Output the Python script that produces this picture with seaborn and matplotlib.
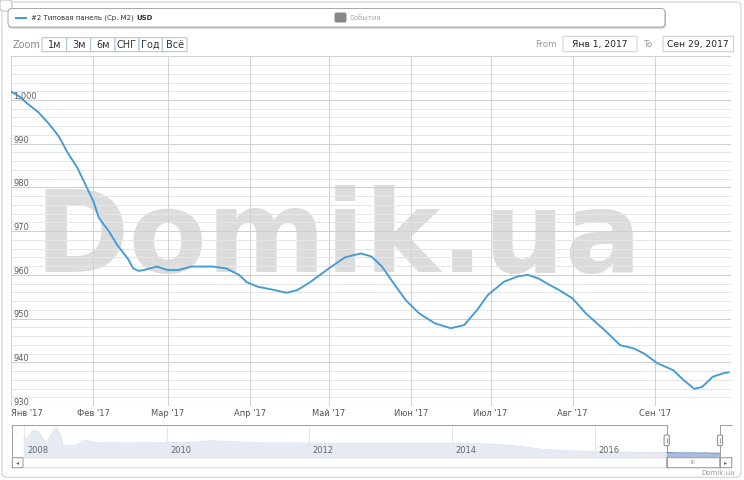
import matplotlib
matplotlib.use("Agg")
import matplotlib.pyplot as plt
from matplotlib.patches import FancyBboxPatch
from matplotlib.lines import Line2D
from matplotlib.transforms import IdentityTransform
import seaborn as sns
import pandas as pd

# ---------------- data ----------------
dates = ["2017-01-01", "2017-01-04", "2017-01-07", "2017-01-11", "2017-01-15", "2017-01-19",
         "2017-01-22", "2017-01-26", "2017-01-29", "2017-02-01", "2017-02-03", "2017-02-07",
         "2017-02-10", "2017-02-14", "2017-02-16", "2017-02-18", "2017-02-20", "2017-02-25",
         "2017-03-01", "2017-03-05", "2017-03-10", "2017-03-18", "2017-03-23", "2017-03-28",
         "2017-03-31", "2017-04-04", "2017-04-09", "2017-04-15", "2017-04-19", "2017-04-24",
         "2017-05-01", "2017-05-07", "2017-05-13", "2017-05-17", "2017-05-21", "2017-05-25",
         "2017-05-30", "2017-06-04", "2017-06-10", "2017-06-16", "2017-06-21", "2017-06-26",
         "2017-06-30", "2017-07-03", "2017-07-06", "2017-07-11", "2017-07-15", "2017-07-19",
         "2017-07-23", "2017-07-27", "2017-08-01", "2017-08-06", "2017-08-13", "2017-08-19",
         "2017-08-24", "2017-08-28", "2017-09-02", "2017-09-08", "2017-09-12", "2017-09-16",
         "2017-09-19", "2017-09-23", "2017-09-27", "2017-09-29"]
prices = [1001.9, 1000.8, 999.2, 997.3, 994.7, 991.6,
          988.2, 984.4, 980.6, 976.8, 973.1, 969.8,
          966.8, 963.7, 961.5, 960.9, 961.1, 961.9,
          961.1, 961.1, 961.9, 961.9, 961.5, 960.0,
          958.3, 957.3, 956.7, 955.9, 956.5, 958.4,
          961.5, 964.0, 964.9, 964.2, 961.9, 958.4,
          954.2, 951.2, 948.9, 947.8, 948.5, 952.0,
          955.4, 956.9, 958.4, 959.6, 960.0, 959.2,
          957.8, 956.5, 954.6, 951.2, 947.4, 943.9,
          943.2, 942.0, 939.8, 938.2, 935.9, 933.9,
          934.4, 936.7, 937.5, 937.7]

month_ticks = ["2017-01-01", "2017-02-01", "2017-03-01", "2017-04-01", "2017-05-01",
               "2017-06-01", "2017-07-01", "2017-08-01", "2017-09-01"]
month_labels = ["Янв '17", "Фев '17", "Мар '17", "Апр '17", "Май '17",
                "Июн '17", "Июл '17", "Авг '17", "Сен '17"]
y_ticks = [930, 940, 950, 960, 970, 980, 990, 1000]
y_tick_labels = ["930", "940", "950", "960", "970", "980", "990", "1,000"]

# navigator (full history, decimal years)
nav_years = [2007.99, 2008.05, 2008.13, 2008.20, 2008.27, 2008.31, 2008.36, 2008.41, 2008.45,
             2008.50, 2008.55, 2008.62, 2008.72, 2008.80, 2008.86, 2008.95, 2009.10, 2009.50,
             2010.00, 2010.40, 2010.65, 2010.90, 2011.40, 2012.00, 2012.60, 2013.20, 2013.80,
             2014.30, 2014.60, 2014.90, 2015.20, 2015.50, 2015.90, 2016.40, 2016.90, 2017.00]
nav_values = [1928, 2000, 2550, 2450, 1900, 1740, 2000, 2500, 2740,
              2300, 1510, 1450, 1460, 1700, 1860, 1720, 1670, 1660,
              1680, 1720, 1810, 1740, 1660, 1650, 1620, 1610, 1620,
              1600, 1560, 1450, 1250, 1120, 1080, 1020, 990, 1000]
nav_year_ticks = [2008, 2010, 2012, 2014, 2016]

series_name = "#2 Типовая панель (Ср. М2) "
series_unit = "USD"
events_label = "События"
zoom_buttons = ["1м", "3м", "6м", "СНГ", "Год", "Всё"]
from_label, to_label = "Янв 1, 2017", "Сен 29, 2017"

# ---------------- setup ----------------
sns.set_theme(style="white")
plt.rcParams["font.family"] = ["DejaVu Sans"]

W, H = 744, 480
fig = plt.figure(figsize=(W / 100, H / 100), dpi=100)
fig.patch.set_facecolor("white")
PX = 0.72  # 1 px in points


def fx(x):
    return x / W


def fy(y):
    return 1 - y / H


def box(x0, y0, x1, y1, r=0, fc="white", ec="#cccccc", lw=1.0, z=1):
    p = FancyBboxPatch((x0, H - y1), x1 - x0, y1 - y0,
                       boxstyle=f"round,pad=0,rounding_size={r}",
                       transform=IdentityTransform(), fc=fc, ec=ec, lw=lw * PX, zorder=z)
    fig.add_artist(p)
    return p


def line(xs, ys, color="#999999", lw=1.0, z=5):
    fig.add_artist(Line2D([fx(x) for x in xs], [fy(y) for y in ys], transform=fig.transFigure,
                          color=color, lw=lw * PX, zorder=z, solid_capstyle="butt"))


# outer border + corner box
box(2, 2, 741, 477.3, r=5, fc="white", ec="#cccccc", z=0)
box(0, 0, 12, 11, r=3, fc="white", ec="#bbbbbb", z=1)

# legend
box(8.5, 10, 665.5, 28, r=4, fc="#dddddd", ec="#bbbbbb", z=1)
box(8, 8.5, 665, 27, r=4, fc="white", ec="#aaaaaa", z=2)
line([15, 27], [18, 18], color="#449bd4", lw=2, z=3)
t = fig.text(fx(31), fy(18), series_name, fontsize=5, color="#333333", va="center", ha="left", zorder=3)
fig.canvas.draw()
bb = t.get_window_extent()
fig.text(bb.x1 / W, fy(18), series_unit, fontsize=5, color="#333333", va="center", ha="left",
         fontweight="bold", zorder=3)
box(335, 13, 346, 22, r=1.5, fc="#888888", ec="#888888", z=3)
fig.text(fx(350), fy(18), events_label, fontsize=5, color="#aaaaaa", va="center", ha="left", zorder=3)

# zoom buttons
fig.text(fx(12.3), fy(44.7), "Zoom", fontsize=7, color="#888888", va="center", ha="left")
edges = [42, 66.7, 90.7, 115, 139, 162.3, 187]
for i, lab in enumerate(zoom_buttons):
    box(edges[i], 37.7, edges[i + 1], 51.7, r=0, fc="white", ec="#a9c0de", z=2)
    fig.text(fx((edges[i] + edges[i + 1]) / 2), fy(44.7), lab, fontsize=7, color="#333333",
             va="center", ha="center", zorder=3)

# from / to
fig.text(fx(556.7), fy(44.5), "From", fontsize=6.3, color="#999999", va="center", ha="right")
box(563, 36.3, 637, 51.7, fc="white", ec="#cccccc", z=2)
fig.text(fx(600), fy(44.5), from_label, fontsize=6.6, color="#222222", va="center", ha="center", zorder=3)
fig.text(fx(648), fy(44.5), "To", fontsize=6.3, color="#999999", va="center", ha="center")
box(663, 36.3, 733.5, 51.7, fc="white", ec="#cccccc", z=2)
fig.text(fx(698.3), fy(44.5), to_label, fontsize=6.6, color="#222222", va="center", ha="center", zorder=3)

# ---------------- main plot ----------------
ax = fig.add_axes([fx(11.4), fy(406), 720 / W, (406 - 56.3) / H])
ax.set_facecolor("none")
df = pd.DataFrame({"date": pd.to_datetime(dates), "price": prices})
sns.lineplot(data=df, x="date", y="price", ax=ax, color="#449bd4", linewidth=1.35, zorder=4)
for ln in ax.get_lines():
    ln.set_solid_joinstyle("round")
    ln.set_solid_capstyle("round")
x0, x1 = pd.Timestamp("2017-01-01"), pd.Timestamp("2017-09-30")
ax.set_xlim(x0, x1)
ax.set_ylim(930, 1010)
for v in range(930, 1011, 2):
    if v % 10:
        ax.axhline(v, color="#e6e6e6", lw=PX, zorder=1)
for v in range(930, 1011, 10):
    ax.axhline(v, color="#cfcfcf", lw=PX, zorder=1.2)
for m in month_ticks:
    ax.axvline(pd.Timestamp(m), color="#d3d3d3", lw=PX, zorder=1.1)
ax.axvline(x1, color="#d3d3d3", lw=PX, zorder=1.1)
ax.axhline(930, color="#c0c0c0", lw=1.2 * PX, zorder=1.3)
for s in ax.spines.values():
    s.set_visible(False)
ax.set_yticks([])
ax.set_xlabel("")
ax.set_ylabel("")
ax.set_xticks(pd.to_datetime(month_ticks))
ax.set_xticklabels(month_labels, fontsize=6, color="#555555")
ax.tick_params(axis="x", length=0, pad=2.3)
ax.get_xticklabels()[0].set_ha("left")
for v, lab in zip(y_ticks, y_tick_labels):
    ax.text(0.0025, v + 0.25, lab, transform=ax.get_yaxis_transform(), fontsize=6, color="#606060",
            va="baseline", ha="left", zorder=5)

# watermark
ax.text(fx(338), fy(272), "Domik.ua", transform=fig.transFigure, fontsize=82, fontweight="bold",
        color="#dcdcdc", ha="center", va="baseline", zorder=0.5)

# ---------------- navigator ----------------
nav = fig.add_axes([fx(11.4), fy(456.7), 720 / W, 31.7 / H])
nav.set_facecolor("none")
nav.set_xlim(2007.825, 2017.909)
nav.set_ylim(700, 2900)
for yr in nav_year_ticks:
    nav.axvline(yr, color="#e6e6e6", lw=PX, zorder=1)
nav.fill_between(nav_years, nav_values, 700, color="#e5eaf3", lw=0, zorder=2)
nav.plot(nav_years, nav_values, color="#d8e0ee", lw=0.6, zorder=2.1)
dec = df["date"].dt.dayofyear.sub(1).div(365).add(2017)
nav.fill_between(dec, df["price"], 700, color="#a9bedc", lw=0, zorder=2)
nav.plot(dec, df["price"], color="#6f90c6", lw=0.8, zorder=2.2)
for yr in nav_year_ticks:
    nav.text(yr + 0.045, 1100, str(yr), fontsize=6, color="#666666", va="center", ha="left", zorder=3)
nav.set_xticks([])
nav.set_yticks([])
for s in nav.spines.values():
    s.set_visible(False)

# navigator outline
oc = "#a0a0a0"
line([12.3, 12.3, 666.7, 666.7], [457, 425, 425, 467.7], color=oc)
line([720, 720, 731.7], [467.7, 425, 425], color=oc)
# scrollbar
box(12.3, 457.7, 731.7, 467.7, fc="white", ec="#dddddd", z=3)
box(12.3, 457.7, 23, 467.7, fc="white", ec="#999999", z=4)
fig.text(fx(17.6), fy(462.7), "◂", fontsize=4.5, color="#666666", ha="center", va="center", zorder=6)
box(666.7, 457.7, 720, 467.7, fc="white", ec="#999999", z=4)
fig.text(fx(693.3), fy(462.7), "III", fontsize=4, color="#888888", ha="center", va="center", zorder=6)
box(720, 457.7, 731.7, 467.7, fc="white", ec="#999999", z=4)
fig.text(fx(725.8), fy(462.7), "▸", fontsize=4.5, color="#666666", ha="center", va="center", zorder=6)
# handles
for hx in (666.7, 720):
    box(hx - 2.6, 435, hx + 2.6, 445.7, r=1.5, fc="white", ec="#888888", z=6)
    line([hx, hx], [437.5, 443.2], color="#888888", lw=0.8, z=7)

# credit
fig.text(fx(735), fy(473.3), "Domik.ua", fontsize=5, color="#999999", ha="right", va="center")

fig.savefig("out.png", dpi=100, facecolor="white")
